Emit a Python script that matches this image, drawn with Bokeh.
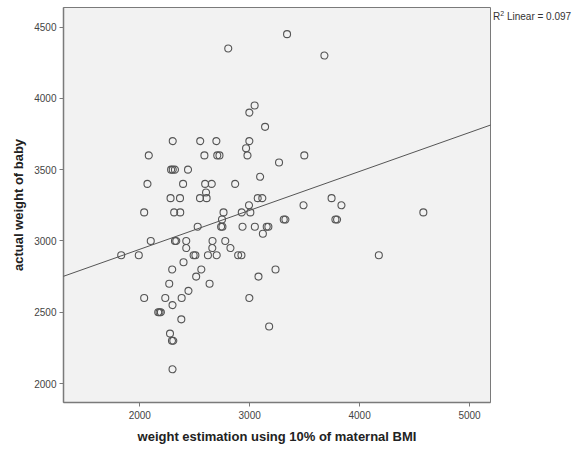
from bokeh.plotting import figure
from bokeh.models import Range1d, Slope, FixedTicker, Div
from bokeh.layouts import row
from bokeh.embed import file_html
from bokeh.resources import INLINE

# weight estimation using 10% of maternal BMI (x) vs actual weight of baby (y)
est_weight = [
    2805, 3340, 3680, 3045, 2997, 3140, 2300, 2550, 2697, 2997,
    2967, 2082, 2588, 2705, 2725, 2980, 3497, 3267, 2285, 2300,
    2320, 2439, 3095, 2070, 2394, 2595, 2655, 2868, 2603, 2280,
    2366, 2548, 2608, 3073, 3115, 3745, 2994, 3490, 3835, 2040,
    2313, 2368, 2762, 2928, 3006, 4580, 2748, 3310, 3325, 3780,
    3795, 2527, 2740, 2752, 2935, 3047, 3155, 3170, 3120, 2100,
    2320, 2332, 2423, 2662, 2778, 2423, 2660, 2825, 1831, 1991,
    2490, 2506, 2620, 2700, 2895, 2925, 4175, 2398, 2295, 2560,
    3235, 2513, 3080, 2268, 2635, 2443, 2040, 2232, 2381, 2997,
    2298, 2168, 2180, 2192, 2378, 3177, 2275, 2293, 2305, 2298,
]
actual_weight = [
    4350, 4450, 4300, 3950, 3900, 3800, 3700, 3700, 3700, 3700,
    3650, 3600, 3600, 3600, 3600, 3600, 3600, 3550, 3500, 3500,
    3500, 3500, 3450, 3400, 3400, 3400, 3400, 3400, 3340, 3300,
    3300, 3300, 3300, 3300, 3300, 3300, 3250, 3250, 3250, 3200,
    3200, 3200, 3200, 3200, 3200, 3200, 3150, 3150, 3150, 3150,
    3150, 3100, 3100, 3100, 3100, 3100, 3100, 3100, 3050, 3000,
    3000, 3000, 3000, 3000, 3000, 2950, 2950, 2950, 2900, 2900,
    2900, 2900, 2900, 2900, 2900, 2900, 2900, 2850, 2800, 2800,
    2800, 2750, 2750, 2700, 2700, 2650, 2600, 2600, 2600, 2600,
    2550, 2500, 2500, 2500, 2450, 2400, 2350, 2300, 2300, 2100,
]

x_ticks = [2000, 3000, 4000, 5000]
y_ticks = [2000, 2500, 3000, 3500, 4000, 4500]
x_range = (1306, 5191)
y_range = (1867, 4637)

fit_intercept = 2395.5
fit_slope = 0.273
r2_label = "R"
r2_sup = "2"
r2_rest = " Linear = 0.097"
x_label = "weight estimation using 10% of maternal BMI"
y_label = "actual weight of baby"

FONT = "Liberation Sans"

p = figure(
    width=492, height=446,
    x_range=Range1d(*x_range), y_range=Range1d(*y_range),
    output_backend="svg", toolbar_location=None,
    min_border_left=63, min_border_right=2,
    min_border_top=7, min_border_bottom=42,
)
p.background_fill_color = "#f2f2f2"
p.border_fill_color = "white"
p.outline_line_color = "#7a7a7a"
p.outline_line_width = 1
p.xgrid.visible = False
p.ygrid.visible = False

for ax, ticks, lab in ((p.xaxis, x_ticks, x_label), (p.yaxis, y_ticks, y_label)):
    ax.ticker = FixedTicker(ticks=ticks)
    ax.axis_label = lab
    ax.axis_label_text_font = FONT
    ax.axis_label_text_font_style = "bold"
    ax.axis_label_text_font_size = "13px"
    ax.axis_label_text_color = "#222222"
    ax.major_label_text_font = FONT
    ax.major_label_text_font_size = "10px"
    ax.major_label_text_color = "#444444"
    ax.axis_line_color = "#7a7a7a"
    ax.axis_line_width = 1.5
    ax.major_tick_line_color = "#7a7a7a"
    ax.major_tick_in = 0
    ax.major_tick_out = 4
    ax.minor_tick_line_color = None

p.xaxis.major_label_standoff = 4
p.xaxis.axis_label_standoff = 7
p.yaxis.major_label_standoff = 3
p.yaxis.axis_label_standoff = 5

p.add_layout(Slope(gradient=fit_slope, y_intercept=fit_intercept,
                   line_color="#555555", line_width=1))

p.scatter(est_weight, actual_weight, marker="circle", size=7,
          fill_color=None, line_color="#555555", line_width=1.1)

r2 = Div(
    text=f"{r2_label}<sup style='font-size:7px'>{r2_sup}</sup>{r2_rest}",
    width=80, height=24, margin=(0, 0, 0, 0),
    styles={"font-family": FONT, "font-size": "10px", "color": "#333333",
            "padding-top": "9px", "padding-left": "1px",
            "white-space": "nowrap"},
)

layout = row(p, r2, spacing=0)

open("out.html", "w").write(file_html(layout, INLINE))
